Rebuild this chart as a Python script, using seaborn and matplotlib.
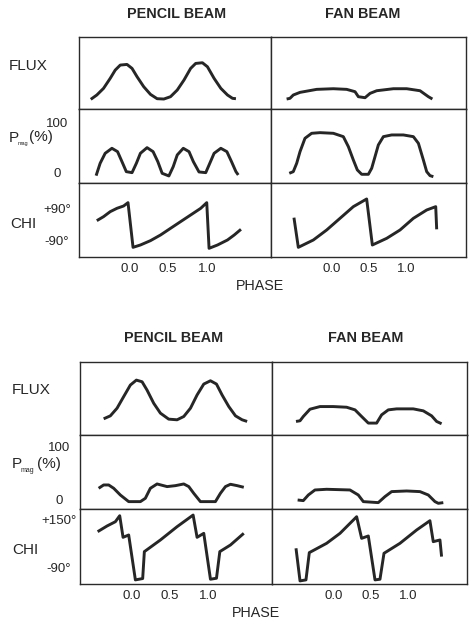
import matplotlib
matplotlib.use("Agg")
import matplotlib.pyplot as plt
import pandas as pd
import seaborn as sns

# ---------------- upper set ----------------
# pencil beam
up_pen_flux_ph = [-0.498, -0.420, -0.333, -0.247, -0.182, -0.117, -0.030, 0.035, 0.100, 0.186, 0.273, 0.359,
                  0.446, 0.532, 0.619, 0.706, 0.792, 0.857, 0.944, 1.009, 1.095, 1.182, 1.268, 1.333, 1.377]
up_pen_flux = [0.212, 0.307, 0.453, 0.672, 0.854, 0.964, 0.978, 0.891, 0.708, 0.489, 0.321, 0.226,
               0.219, 0.270, 0.416, 0.635, 0.891, 1.000, 1.015, 0.927, 0.672, 0.453, 0.307, 0.234, 0.226]
up_pen_pmag_ph = [-0.429, -0.377, -0.312, -0.225, -0.152, -0.095, -0.039, 0.035, 0.091, 0.143, 0.229, 0.307,
                  0.368, 0.424, 0.511, 0.567, 0.619, 0.697, 0.771, 0.827, 0.900, 0.987, 1.043, 1.095, 1.182,
                  1.260, 1.320, 1.377, 1.407]
up_pen_pmag = [-6.7, 18.0, 38.0, 48.0, 41.3, 21.3, 1.3, -0.7, 18.0, 38.0, 49.3, 41.3,
               21.3, -2.0, -7.3, 11.3, 34.7, 48.0, 41.3, 21.3, 0.7, -0.7, 19.3, 38.0, 48.0,
               41.3, 21.3, 1.3, -5.3]
up_pen_chi_ph = [-0.420, -0.333, -0.247, -0.160, -0.074, -0.017, 0.048, 0.143, 0.273, 0.403, 0.532,
                 0.662, 0.792, 0.922, 1.000, 1.030, 1.139, 1.268, 1.355, 1.442]
up_pen_chi = [21.3, 43.6, 71.4, 90.0, 103.0, 121.6, -127.2, -114.2, -90.0, -58.5, -21.4,
              15.8, 52.9, 90.0, 121.6, -132.7, -114.2, -86.3, -58.5, -26.9]
# fan beam
up_fan_flux_ph = [-0.613, -0.568, -0.523, -0.432, -0.207, 0.018, 0.198, 0.311, 0.356, 0.446, 0.514, 0.604,
                  0.829, 1.009, 1.189, 1.302, 1.356]
up_fan_flux = [0.219, 0.234, 0.307, 0.365, 0.431, 0.445, 0.431, 0.380, 0.270, 0.248, 0.343, 0.401,
               0.445, 0.445, 0.401, 0.270, 0.219]
up_fan_pmag_ph = [-0.577, -0.523, -0.477, -0.432, -0.365, -0.275, -0.162, 0.018, 0.153, 0.221, 0.288, 0.342,
                  0.401, 0.491, 0.536, 0.581, 0.626, 0.694, 0.806, 0.964, 1.099, 1.167, 1.234, 1.279,
                  1.324, 1.369]
up_fan_pmag = [-2.0, 1.3, 18.0, 41.3, 68.0, 78.0, 79.3, 78.0, 71.3, 51.3, 24.7, 4.7,
               -4.0, -4.0, 8.0, 31.3, 54.7, 71.3, 74.7, 74.7, 71.3, 58.0, 24.7, 1.3,
               -6.7, -8.7]
up_fan_chi_ph = [-0.514, -0.455, -0.252, -0.072, 0.108, 0.288, 0.468, 0.545, 0.739, 0.919, 1.099, 1.279,
                 1.401, 1.414]
up_fan_chi = [38.0, -127.2, -86.3, -30.6, 34.3, 99.3, 142.0, -114.2, -77.0, -30.6, 34.3, 80.7,
              99.3, -26.9]

# ---------------- lower set ----------------
# pencil beam
lo_pen_flux_ph = [-0.373, -0.285, -0.197, -0.110, -0.022, 0.057, 0.132, 0.197, 0.285, 0.373, 0.482, 0.592,
                  0.680, 0.768, 0.855, 0.943, 1.031, 1.110, 1.184, 1.272, 1.360, 1.447, 1.513]
lo_pen_flux = [0.295, 0.349, 0.488, 0.699, 0.910, 1.000, 0.970, 0.819, 0.578, 0.398, 0.289, 0.277,
               0.337, 0.488, 0.729, 0.928, 0.988, 0.928, 0.729, 0.518, 0.349, 0.277, 0.247]
lo_pen_pmag_ph = [-0.439, -0.373, -0.307, -0.241, -0.154, -0.044, 0.110, 0.175, 0.241, 0.329, 0.461, 0.570,
                  0.680, 0.746, 0.811, 0.899, 1.096, 1.162, 1.228, 1.294, 1.382, 1.469]
lo_pen_pmag = [20.9, 27.2, 27.2, 20.9, 8.2, -4.4, -4.4, 1.9, 20.9, 29.1, 24.1, 25.9,
               29.1, 24.1, 11.4, -4.4, -4.4, 11.4, 24.1, 28.5, 25.9, 22.8]
lo_pen_chi_ph = [-0.452, -0.329, -0.219, -0.162, -0.118, -0.044, 0.044, 0.140, 0.162, 0.373, 0.592,
                 0.803, 0.855, 0.943, 1.031, 1.110, 1.154, 1.294, 1.469]
lo_pen_chi = [88.3, 116.7, 138.3, 168.3, 60.0, 71.7, -153.4, -146.7, -11.7, 46.7, 113.3,
              171.7, 60.0, 80.0, -150.1, -145.1, -11.7, 21.6, 80.0]
# fan beam
lo_fan_flux_ph = [-0.511, -0.457, -0.413, -0.323, -0.188, -0.009, 0.170, 0.283, 0.372, 0.462, 0.574, 0.641,
                  0.731, 0.843, 1.067, 1.202, 1.314, 1.381, 1.448]
lo_fan_flux = [0.247, 0.259, 0.337, 0.470, 0.518, 0.518, 0.506, 0.458, 0.337, 0.217, 0.217, 0.367,
               0.458, 0.476, 0.476, 0.440, 0.349, 0.247, 0.205]
lo_fan_pmag_ph = [-0.489, -0.413, -0.345, -0.256, -0.099, 0.215, 0.327, 0.395, 0.596, 0.686, 0.776, 0.978,
                  1.157, 1.269, 1.359, 1.404, 1.471]
lo_fan_pmag = [-1.3, -2.5, 8.2, 17.7, 19.0, 17.7, 8.2, -4.4, -6.3, 5.1, 14.6, 15.8,
               14.6, 8.2, -4.4, -7.6, -6.3]
lo_fan_chi_ph = [-0.511, -0.457, -0.377, -0.332, -0.099, 0.081, 0.305, 0.372, 0.462, 0.552, 0.619, 0.673,
                 0.888, 1.112, 1.291, 1.336, 1.426, 1.448]
lo_fan_chi = [5.0, -158.4, -153.4, -16.7, 30.0, 80.0, 163.3, 55.0, 66.7, -153.4, -150.1, -20.0,
              30.0, 96.7, 143.3, 38.3, 46.7, -36.7]

# axis annotations
column_titles = ["PENCIL BEAM", "FAN BEAM"]
phase_ticks = [0.0, 0.5, 1.0]
phase_labels = ["0.0", "0.5", "1.0"]
pmag_ticks = [0, 100]
pmag_labels = ["0", "100"]
up_chi_ticks = [-90, 90]
up_chi_labels = ["-90°", "+90°"]
lo_chi_ticks = [-90, 150]
lo_chi_labels = ["-90°", "+150°"]

INK = "#262626"
FRAME = "#2a2a2a"
W, H = 476, 620

sns.set_theme(style="white")
plt.rcParams["font.family"] = ["Liberation Sans", "DejaVu Sans"]

fig = plt.figure(figsize=(W / 100, H / 100), dpi=100)
fig.patch.set_facecolor("white")


def px_axes(x0, x1, y0, y1):
    return fig.add_axes([x0 / W, 1 - y1 / H, (x1 - x0) / W, (y1 - y0) / H])


def curve(ax, ph, val):
    df = pd.DataFrame({"phase": ph, "value": val})
    sns.lineplot(data=df, x="phase", y="value", ax=ax, sort=False, estimator=None,
                 color=INK, linewidth=2.1, solid_capstyle="butt", solid_joinstyle="round")
    ax.set_xlabel("")
    ax.set_ylabel("")


def draw_set(cols_px, rows_px, xlims, ylims, curves, chi_ticks, chi_labels, ypad):
    for c in range(2):
        for r in range(3):
            ax = px_axes(cols_px[c], cols_px[c + 1], rows_px[r], rows_px[r + 1])
            ax.set_facecolor("white")
            ph, val = curves[c][r]
            curve(ax, ph, val)
            ax.set_xlim(*xlims[c])
            ax.set_ylim(*ylims[r])
            for s in ax.spines.values():
                s.set_color(FRAME)
                s.set_linewidth(1.0)
            ax.tick_params(length=0, colors=INK, labelsize=9.5)
            if r == 2:
                ax.set_xticks(phase_ticks)
                ax.set_xticklabels(phase_labels)
                ax.tick_params(axis="x", pad=4)
            else:
                ax.set_xticks([])
            if c == 0 and r == 1:
                ax.set_yticks(pmag_ticks)
                ax.set_yticklabels(pmag_labels)
            elif c == 0 and r == 2:
                ax.set_yticks(chi_ticks)
                ax.set_yticklabels(chi_labels)
            else:
                ax.set_yticks([])
            if c == 0 and r > 0:
                ax.tick_params(axis="y", pad=ypad)
                for tl in ax.get_yticklabels():
                    tl.set_horizontalalignment("center")


# upper set
draw_set(cols_px=[79, 271, 466], rows_px=[37, 109, 183, 257],
         xlims=[(-0.65, 1.83), (-0.824, 1.81)],
         ylims=[(0, 1.58), (-21.4, 126.6), (-181, 231)],
         curves=[[(up_pen_flux_ph, up_pen_flux), (up_pen_pmag_ph, up_pen_pmag), (up_pen_chi_ph, up_pen_chi)],
                 [(up_fan_flux_ph, up_fan_flux), (up_fan_pmag_ph, up_fan_pmag), (up_fan_chi_ph, up_fan_chi)]],
         chi_ticks=up_chi_ticks, chi_labels=up_chi_labels, ypad=15.8)

# lower set
draw_set(cols_px=[80, 272, 467], rows_px=[362, 435, 509, 584],
         xlims=[(-0.684, 1.84), (-0.834, 1.79)],
         ylims=[(0, 1.33), (-18.4, 122), (-174, 202)],
         curves=[[(lo_pen_flux_ph, lo_pen_flux), (lo_pen_pmag_ph, lo_pen_pmag), (lo_pen_chi_ph, lo_pen_chi)],
                 [(lo_fan_flux_ph, lo_fan_flux), (lo_fan_pmag_ph, lo_fan_pmag), (lo_fan_chi_ph, lo_fan_chi)]],
         chi_ticks=lo_chi_ticks, chi_labels=lo_chi_labels, ypad=15.1)


def ftext(x, y, s, **kw):
    fig.text(x / W, 1 - y / H, s, color=INK, **kw)


# column headings
for (x, y), s in zip([(177, 14), (363, 14), (174, 338), (366, 338)], column_titles * 2):
    ftext(x, y, s, ha="center", va="center", fontsize=10.4, fontweight="bold")

# row headings
for x, y in [(9, 66), (12, 390)]:
    ftext(x, y, "FLUX", ha="left", va="center", fontsize=11)
for x, y in [(10, 224), (12, 550)]:
    ftext(x, y, "CHI", ha="left", va="center", fontsize=11)
# P_mag(%) with a small lowered subscript
for x, y, sub_size, dx_pct in [(9, 137.5, 4.0, 20.5), (12, 464, 5.0, 24.5)]:
    ftext(x, y, "P", ha="left", va="center", fontsize=11)
    ftext(x + 8.5, y + 6.5, "mag", ha="left", va="center", fontsize=sub_size)
    ftext(x + dx_pct, y, "(%)", ha="left", va="center", fontsize=11)

# phase axis captions
ftext(260, 286, "PHASE", ha="center", va="center", fontsize=10.3)
ftext(256, 613, "PHASE", ha="center", va="center", fontsize=10.3)

fig.savefig("out.png", dpi=100, facecolor="white")
